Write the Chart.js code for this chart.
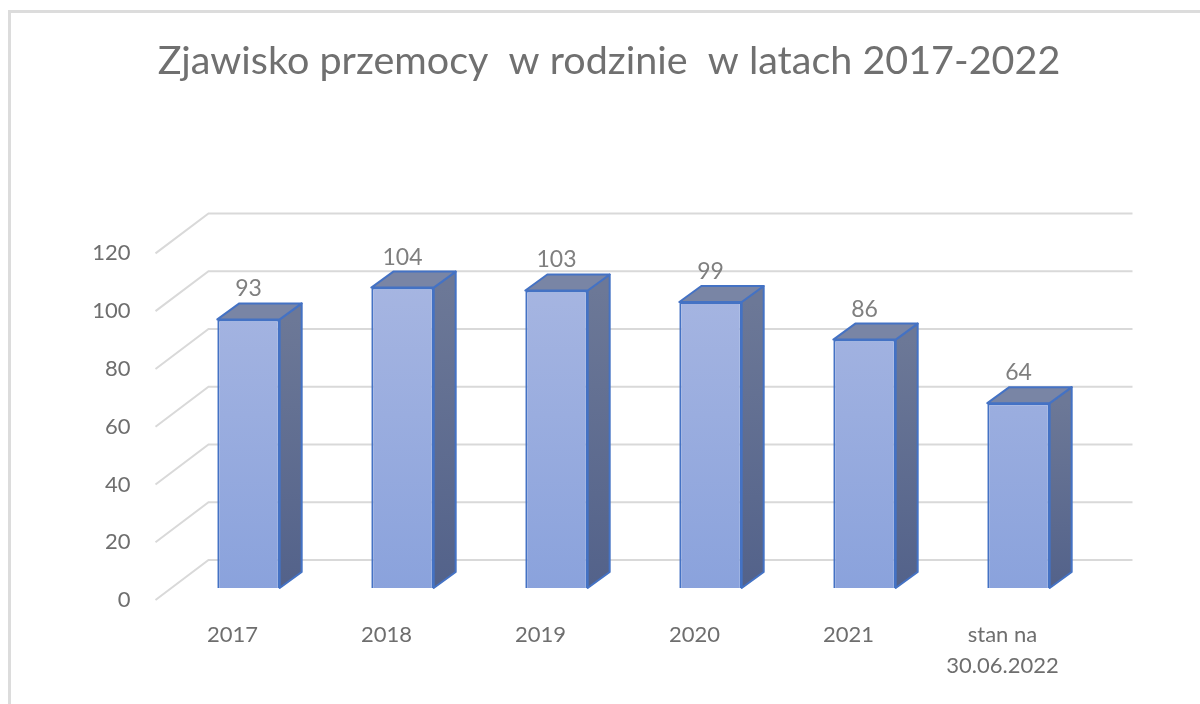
<!DOCTYPE html>
<html>
<head>
<meta charset="utf-8">
<script src="https://cdn.jsdelivr.net/npm/chart.js@4.4.1/dist/chart.umd.min.js"></script>
<style>
  html, body { margin: 0; padding: 0; background: #fff; overflow: hidden; }
  #frame { position: absolute; left: 8px; top: 10px; width: 1300px; height: 800px; border: 3px solid #dcdcdc; }
  #wrap { position: absolute; left: 0; top: 0; width: 1200px; height: 704px; }
</style>
</head>
<body>
<div id="frame"></div>
<div id="wrap"><canvas id="chart" width="1200" height="704"></canvas></div>
<script>
const categories = ['2017', '2018', '2019', '2020', '2021', ['stan na', '30.06.2022']];
const values = [93, 104, 103, 99, 86, 64];
const yTicks = [0, 20, 40, 60, 80, 100, 120];
const chartTitle = 'Zjawisko przemocy  w rodzinie  w latach 2017-2022';

const FONT = 'Lato, "Open Sans", sans-serif';
const DX = 22, DY = 16;       // bar depth
const GDX = 37, GDY = 28;     // back wall offset
const FDX = 16, FDY = 12;     // front floor offset

const box3d = {
  id: 'box3d',
  beforeDatasetsDraw(chart) {
    const ctx = chart.ctx, y = chart.scales.y, area = chart.chartArea;
    ctx.save();
    ctx.strokeStyle = '#d9d9d9';
    ctx.lineWidth = 2;
    yTicks.forEach(function (v) {
      const py = y.getPixelForValue(v);
      ctx.beginPath();
      ctx.moveTo(area.left - FDX, py + FDY);
      ctx.lineTo(area.left + GDX, py - GDY);
      ctx.lineTo(area.right + GDX, py - GDY);
      ctx.stroke();
    });
    ctx.restore();
  },
  afterDatasetsDraw(chart) {
    const ctx = chart.ctx;
    const meta = chart.getDatasetMeta(0);
    ctx.save();
    meta.data.forEach(function (bar, i) {
      const l = bar.x - bar.width / 2, r = bar.x + bar.width / 2;
      const top = bar.y, base = bar.base;
      // side
      const g = ctx.createLinearGradient(0, top, 0, base);
      g.addColorStop(0, '#6c7897');
      g.addColorStop(1, '#53628a');
      ctx.fillStyle = g;
      ctx.strokeStyle = '#4472c4';
      ctx.lineWidth = 2;
      ctx.lineJoin = 'round';
      ctx.beginPath();
      ctx.moveTo(r, top);
      ctx.lineTo(r + DX, top - DY);
      ctx.lineTo(r + DX, base - DY);
      ctx.lineTo(r, base);
      ctx.closePath();
      ctx.fill();
      ctx.stroke();
      // top
      ctx.fillStyle = '#7985a5';
      ctx.beginPath();
      ctx.moveTo(l, top);
      ctx.lineTo(l + DX, top - DY);
      ctx.lineTo(r + DX, top - DY);
      ctx.lineTo(r, top);
      ctx.closePath();
      ctx.fill();
      ctx.stroke();
      // value label
      ctx.fillStyle = '#7f7f7f';
      ctx.font = '23px ' + FONT;
      ctx.textAlign = 'center';
      ctx.textBaseline = 'bottom';
      ctx.fillText(String(values[i]), bar.x, top - DY - 3);
    });
    ctx.restore();
  }
};

const ctx = document.getElementById('chart').getContext('2d');
const front = ctx.createLinearGradient(0, 240, 0, 590);
front.addColorStop(0, '#aab8e2');
front.addColorStop(1, '#8aa2dc');

new Chart(ctx, {
  type: 'bar',
  data: {
    labels: categories,
    datasets: [{ data: values, backgroundColor: front, borderColor: '#4472c4', borderWidth: 2, categoryPercentage: 1, barPercentage: 0.405 }]
  },
  options: {
    responsive: false,
    animation: false,
    layout: { padding: { left: 18, right: 0, top: 0, bottom: 0 } },
    plugins: {
      legend: { display: false },
      tooltip: { enabled: false },
      title: { display: true, text: chartTitle, color: '#707070', font: { family: FONT, size: 39.5, weight: 'normal' }, padding: { top: 38, bottom: 156 } }
    },
    scales: {
      x: {
        grid: { display: false, drawTicks: false },
        border: { display: false },
        ticks: { color: '#6e6e6e', font: { family: FONT, size: 22, lineHeight: 1.4 }, padding: 32, labelOffset: -16, maxRotation: 0, autoSkip: false },
        afterFit: function (s) { s.height = 116; }
      },
      y: {
        min: 0, max: 120,
        grid: { display: false, drawTicks: false },
        border: { display: false },
        ticks: { stepSize: 20, color: '#6e6e6e', font: { family: FONT, size: 22 }, padding: 41, labelOffset: 12 },
        afterFit: function (s) { s.width = 153.5; }
      },
      pad: {
        position: 'right',
        min: 0, max: 120,
        grid: { display: false, drawTicks: false },
        border: { display: false },
        ticks: { display: false },
        afterFit: function (s) { s.width = 104.5; }
      }
    }
  },
  plugins: [box3d]
});
</script>
</body>
</html>
